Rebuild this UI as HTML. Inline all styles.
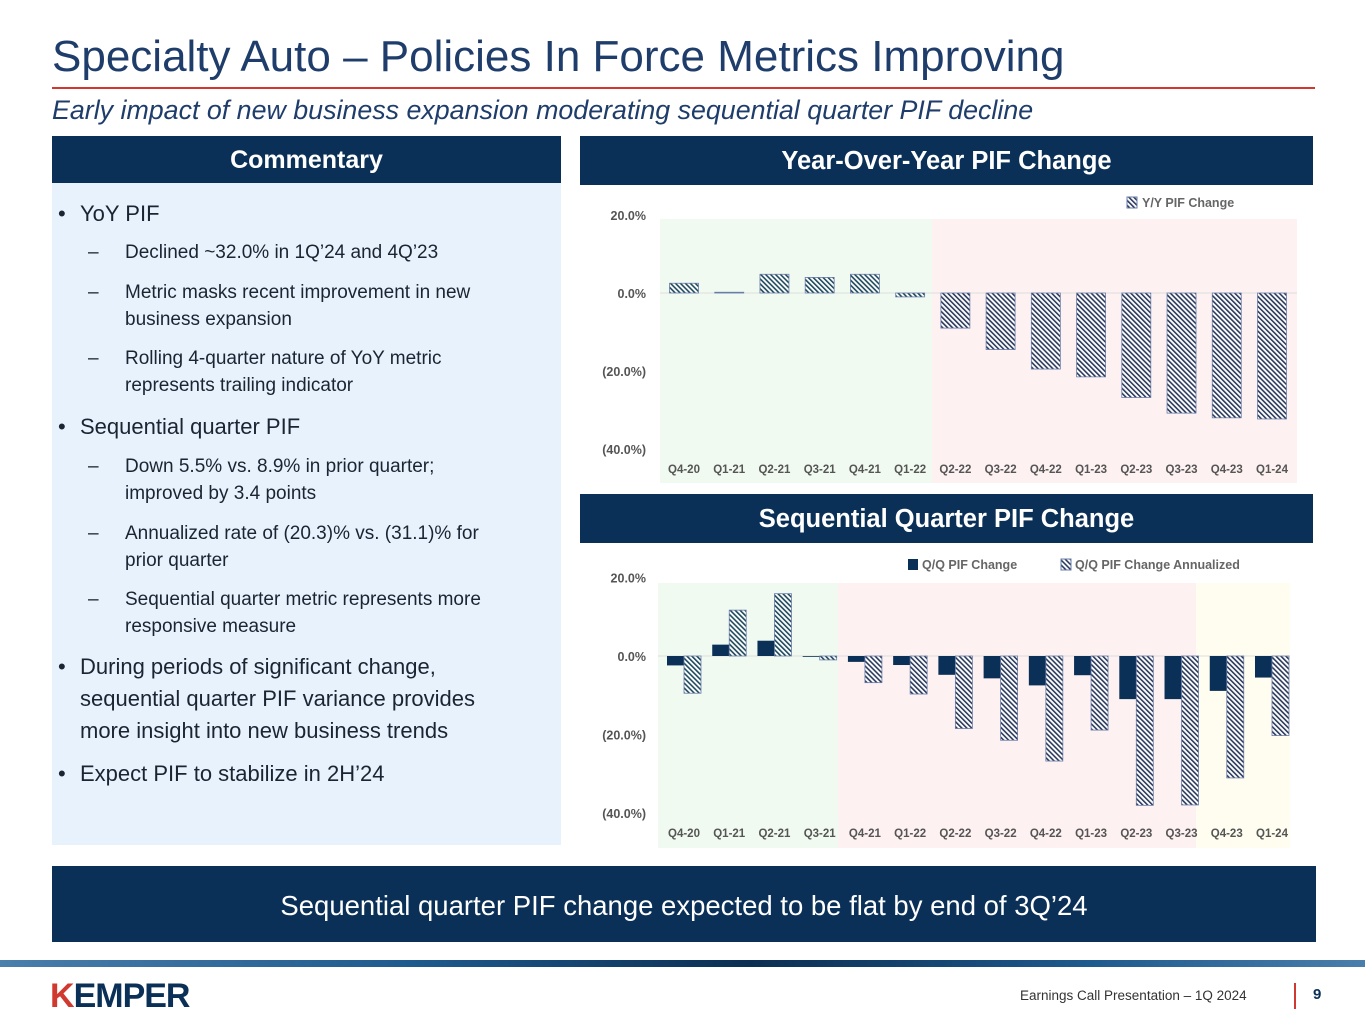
<!DOCTYPE html>
<html><head><meta charset="utf-8">
<style>
body{margin:0;width:1365px;height:1024px;background:#fff;position:relative;overflow:hidden;font-family:"Liberation Sans",sans-serif;}
.abs{position:absolute;}
.hdr{background:#0b3057;color:#fff;font-weight:bold;text-align:center;}
.b1{position:absolute;left:28px;font-size:22px;color:#1a2433;line-height:32px;white-space:nowrap;}
.b1:before{content:"•";position:absolute;left:-22px;}
.b2{position:absolute;left:73px;font-size:19px;color:#1a2433;line-height:27px;white-space:nowrap;}
.b2:before{content:"–";position:absolute;left:-37px;}
</style></head><body>
<div class="abs" style="left:52px;top:32px;font-size:44px;color:#1f3d6b;white-space:nowrap;">Specialty Auto – Policies In Force Metrics Improving</div>
<div class="abs" style="left:52px;top:87px;width:1263px;height:2px;background:#d0392f;"></div>
<div class="abs" style="left:52px;top:95px;font-size:26.8px;font-style:italic;color:#1f3d6b;white-space:nowrap;">Early impact of new business expansion moderating sequential quarter PIF decline</div>

<div class="abs hdr" style="left:52px;top:136px;width:509px;height:47px;line-height:48px;font-size:25px;">Commentary</div>
<div class="abs" style="left:52px;top:183px;width:509px;height:662px;background:#e8f2fc;">
 <div class="b1" style="top:15px;">YoY PIF</div>
 <div class="b2" style="top:56px;">Declined ~32.0% in 1Q’24 and 4Q’23</div>
 <div class="b2" style="top:96px;">Metric masks recent improvement in new<br>business expansion</div>
 <div class="b2" style="top:162px;">Rolling 4-quarter nature of YoY metric<br>represents trailing indicator</div>
 <div class="b1" style="top:228px;">Sequential quarter PIF</div>
 <div class="b2" style="top:270px;">Down 5.5% vs. 8.9% in prior quarter;<br>improved by 3.4 points</div>
 <div class="b2" style="top:337px;">Annualized rate of (20.3)% vs. (31.1)% for<br>prior quarter</div>
 <div class="b2" style="top:403px;">Sequential quarter metric represents more<br>responsive measure</div>
 <div class="b1" style="top:468px;">During periods of significant change,<br>sequential quarter PIF variance provides<br>more insight into new business trends</div>
 <div class="b1" style="top:575px;">Expect PIF to stabilize in 2H’24</div>
</div>

<div class="abs hdr" style="left:580px;top:136px;width:733px;height:49px;line-height:50px;font-size:25.5px;">Year-Over-Year PIF Change</div>
<div class="abs hdr" style="left:580px;top:494px;width:733px;height:49px;line-height:50px;font-size:25.5px;">Sequential Quarter PIF Change</div>

<svg class="abs" id="charts" style="left:0;top:0;" width="1365" height="1024">
<defs>
<pattern id="hatch" patternUnits="userSpaceOnUse" width="3.5" height="3.5" patternTransform="rotate(-45)">
<rect width="3.5" height="3.5" fill="#fff"/><rect width="1.6" height="3.5" fill="#2b3a5c"/></pattern>
<pattern id="hatchg" patternUnits="userSpaceOnUse" width="3.5" height="3.5" patternTransform="rotate(-45)">
<rect width="3.5" height="3.5" fill="#fff"/><rect width="1.6" height="3.5" fill="#1e4a5e"/></pattern>
</defs>
</svg>

<div class="abs hdr" style="left:52px;top:866px;width:1264px;height:76px;line-height:80px;font-size:27.5px;font-weight:normal;">Sequential quarter PIF change expected to be flat by end of 3Q’24</div>

<div class="abs" style="left:0;top:960px;width:1365px;height:7px;background:linear-gradient(90deg,#4a7eab,#1f5a8e 30%,#0b2f52 55%,#1f5a8e 80%,#4a7eab);"></div>
<div class="abs" style="left:50px;top:977px;font-size:34px;font-weight:bold;color:#0b3057;letter-spacing:-1px;"><span style="color:#d0392f">K</span>EMPER</div>
<div class="abs" style="left:1020px;top:988px;font-size:13.5px;color:#333;">Earnings Call Presentation – 1Q 2024</div>
<div class="abs" style="left:1294px;top:983px;width:2px;height:26px;background:#d0392f;"></div>
<div class="abs" style="left:1313px;top:986px;font-size:15px;font-weight:bold;color:#0b3057;">9</div>

<script>
const categories=["Q4-20","Q1-21","Q2-21","Q3-21","Q4-21","Q1-22","Q2-22","Q3-22","Q4-22","Q1-23","Q2-23","Q3-23","Q4-23","Q1-24"];
const yoyValues=[2.5,0.2,4.8,4.0,4.8,-1.0,-9.0,-14.5,-19.5,-21.5,-26.8,-30.8,-32.0,-32.3];
const qqValues=[-2.4,2.9,3.9,-0.2,-1.5,-2.3,-4.8,-5.7,-7.5,-4.9,-11.0,-11.0,-8.9,-5.5];
const qqAnnualized=[-9.5,11.7,15.9,-1.0,-6.8,-9.7,-18.5,-21.5,-26.8,-18.9,-38.1,-38.0,-31.1,-20.3];
const tickValues=[20,0,-20,-40];
const tickLabels=["20.0%","0.0%","(20.0%)","(40.0%)"];
const NS="http://www.w3.org/2000/svg";
const svg=document.getElementById('charts');
function mk(t,a){const e=document.createElementNS(NS,t);for(const k in a)e.setAttribute(k,a[k]);svg.appendChild(e);return e;}
const x0=684,step=45.23;
function xc(i){return x0+i*step;}
function yTop(v){return 293-v*3.9;}
function yBot(v){return 656-v*3.92;}
function axis(y,yl){
  tickValues.forEach((v,i)=>{const t=mk('text',{x:646,y:y(v)+5,'text-anchor':'end','font-size':12.5,'font-weight':'bold',fill:'#555'});t.textContent=tickLabels[i];
  
  });
  categories.forEach((c,i)=>{const t=mk('text',{x:xc(i),y:yl,'text-anchor':'middle','font-size':11.5,'font-weight':'bold',fill:'#555'});t.textContent=c;
  
  });
}
function bar(x,w,y,v,fill,stroke){const a=y(0),b=y(v);const r=mk('rect',{x:x,y:Math.min(a,b),width:w,height:Math.max(0.8,Math.abs(a-b)),fill:fill,stroke:stroke||'none','stroke-width':0.8});return r;}
let r=mk('rect',{x:660,y:219,width:272,height:264,fill:'#f1faf1'});
r=mk('rect',{x:932,y:219,width:365,height:264,fill:'#fdf1f1'});
mk('line',{x1:660,x2:1297,y1:yTop(0),y2:yTop(0),stroke:'#ddd','stroke-width':1});
axis(yTop,473);
yoyValues.forEach((v,i)=>{const b=bar(xc(i)-14.5,29,yTop,v,i<6?'url(#hatchg)':'url(#hatch)','#6a7ca8');

});
mk('rect',{x:1127,y:197,width:10,height:11,fill:'url(#hatch)',stroke:'#6a7ca8'});
let t=mk('text',{x:1142,y:207,'font-size':12.5,'font-weight':'bold',fill:'#666'});t.textContent='Y/Y PIF Change';


r=mk('rect',{x:658,y:583,width:180,height:265,fill:'#f1faf1'});
r=mk('rect',{x:838,y:583,width:358,height:265,fill:'#fdf1f1'});
r=mk('rect',{x:1196,y:583,width:94,height:265,fill:'#fefdf0'});
mk('line',{x1:658,x2:1290,y1:yBot(0),y2:yBot(0),stroke:'#ddd','stroke-width':1});
axis(yBot,837);
qqValues.forEach((v,i)=>{const b=bar(xc(i)-17,17,yBot,v,'#0b3057');

});
qqAnnualized.forEach((v,i)=>{const b=bar(xc(i),17,yBot,v,i<4?'url(#hatchg)':'url(#hatch)','#6a7ca8');

});
mk('rect',{x:908,y:559,width:10,height:11,fill:'#0b3057'});
t=mk('text',{x:922,y:569,'font-size':12.5,'font-weight':'bold',fill:'#666'});t.textContent='Q/Q PIF Change';


mk('rect',{x:1061,y:559,width:10,height:11,fill:'url(#hatch)',stroke:'#6a7ca8'});
t=mk('text',{x:1075,y:569,'font-size':12.5,'font-weight':'bold',fill:'#666'});t.textContent='Q/Q PIF Change Annualized';


</script>
</body></html>
